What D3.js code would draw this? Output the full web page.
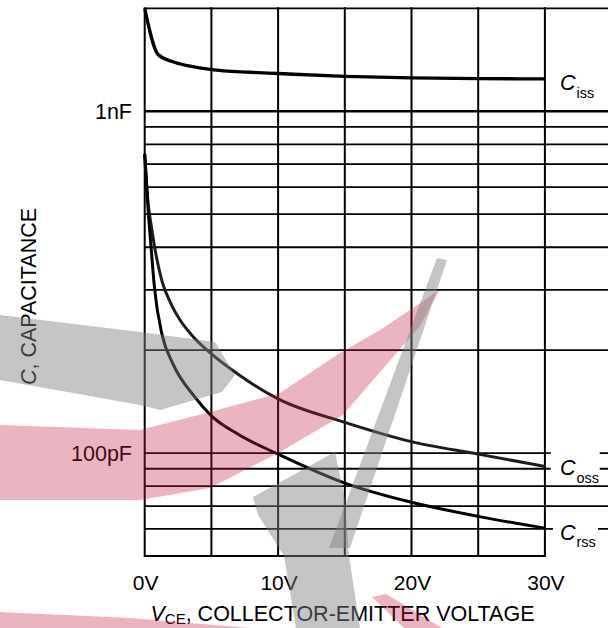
<!DOCTYPE html>
<html>
<head>
<meta charset="utf-8">
<script src="https://cdn.jsdelivr.net/npm/d3@7"></script>
<style>
  body { margin: 0; background: #fff; }
  svg { display: block; }
  text { font-family: "Liberation Sans", Arial, Helvetica, sans-serif; fill: #000; }
</style>
</head>
<body>
<svg id="chart" width="608" height="628"></svg>
<script>
// Capacitance vs. collector-emitter voltage (pF)
const vCiss = [0, 1, 2, 3.4, 5, 7.9, 10, 15, 20, 25, 30];
const ciss  = [2000, 1465, 1400, 1354, 1323, 1300, 1289, 1265, 1252, 1246, 1243];

const vCoss = [0, 0.25, 0.5, 0.77, 1.3, 2, 2.65, 3.5, 5, 7, 10, 15, 20, 25, 30];
const coss  = [750, 540, 460, 395, 318, 272, 245, 222, 195, 170, 144, 123, 108, 99.3, 91.4];

const vCrss = [0, 0.25, 0.5, 0.75, 1.3, 2.1, 3.75, 5, 7, 10, 15, 20, 25, 30];
const crss  = [750, 520, 390, 300, 222, 183, 146, 128.5, 113.5, 99.3, 81.7, 71.8, 65.3, 60.3];

// axes
const xGridV = [0, 5, 10, 15, 20, 25, 30];
const xTickV = [0, 10, 20, 30];
const xTickLabels = ["0V", "10V", "20V", "30V"];
const yGridPF = [60, 70, 80, 90, 100, 200, 300, 400, 500, 600, 700, 800, 900, 1000, 2000];
const yTickPF = [1000, 100];
const yTickLabels = ["1nF", "100pF"];

// translucent logo shapes laid over the grid (page pixels)
const logoPink = [
  [[0,425],[140,430],[210,412],[280,393],[340,353],[380,330],[425,300],[440,289],[420,326],[380,372],[343,415],[280,452],[210,488],[140,500],[0,500]],
  [[0,612],[130,618],[250,628],[0,628]],
  [[372,597],[386,594],[442,628],[404,628]]
];
const logoGray = [
  [[0,315],[140,332],[215,342],[235,375],[222,392],[160,410],[140,405],[0,380]],
  [[253,497],[335,452],[345,500],[349,556],[360,628],[296,628],[284,556],[258,515]],
  [[437,258],[447,260],[350,548],[329,548]]
];

const svg = d3.select("#chart");

const x = d3.scaleLinear().domain([0, 34.73]).range([144.7, 608]);
const y = d3.scaleLog().domain([50, 2000]).range([556, 8.3]);

const grid = svg.append("g").attr("stroke", "#000").attr("fill", "none");

// horizontal grid lines run past 30 V to the page edge
grid.selectAll("line.h").data(yGridPF).join("line")
  .attr("class", "h")
  .attr("x1", x(0)).attr("x2", x.range()[1])
  .attr("y1", d => y(d)).attr("y2", d => y(d))
  .attr("stroke-width", d => d === 1000 ? 2.4 : 1.8);

// bottom border stops at 30 V
grid.append("line")
  .attr("x1", x(0)).attr("x2", x(30))
  .attr("y1", y(50)).attr("y2", y(50))
  .attr("stroke-width", 2);

// vertical grid lines
grid.selectAll("line.v").data(xGridV).join("line")
  .attr("class", "v")
  .attr("x1", d => x(d)).attr("x2", d => x(d))
  .attr("y1", y(2000) - 1).attr("y2", y(50) + 1)
  .attr("stroke-width", 2);

// curves
const line = d3.line().curve(d3.curveMonotoneX)
  .x(d => x(d[0])).y(d => y(d[1]));

const curves = [
  { v: vCiss, c: ciss, w: 3.3, col: "#000" },
  { v: vCoss, c: coss, w: 3, col: "#1c1c1c" },
  { v: vCrss, c: crss, w: 3, col: "#000" }
];
svg.append("g").selectAll("path").data(curves).join("path")
  .attr("d", d => line(d.v.map((v, i) => [v, d.c[i]])))
  .attr("fill", "none")
  .attr("stroke", d => d.col)
  .attr("stroke-width", d => d.w)
  .attr("stroke-linejoin", "round");

// y tick labels
svg.append("g").selectAll("text").data(yTickPF).join("text")
  .attr("x", 132).attr("y", d => y(d) + 7.6)
  .attr("text-anchor", "end")
  .attr("font-size", 21.5)
  .text((d, i) => yTickLabels[i]);

// x tick labels
svg.append("g").selectAll("text").data(xTickV).join("text")
  .attr("x", d => x(d) + 1).attr("y", 589.5)
  .attr("text-anchor", "middle")
  .attr("font-size", 21)
  .text((d, i) => xTickLabels[i]);

// x axis title
const xt = svg.append("text")
  .attr("x", 342.5).attr("y", 620.6)
  .attr("text-anchor", "middle")
  .attr("font-size", 21.5);
xt.append("tspan").attr("font-style", "italic").text("V");
xt.append("tspan").attr("font-size", 15).attr("dy", 3).text("CE");
xt.append("tspan").attr("dy", -3).text(", COLLECTOR-EMITTER VOLTAGE");

// y axis title
const yt = svg.append("text")
  .attr("transform", "translate(36,296.5) rotate(-90)")
  .attr("text-anchor", "middle")
  .attr("font-size", 21.5);
yt.append("tspan").attr("font-style", "italic").text("C");
yt.append("tspan").text(", CAPACITANCE");

// series labels on white boxes beyond 30 V
const seriesLabels = [
  { sub: "iss", box: [552, 64, 50, 40], base: 90 },
  { sub: "oss", box: [550.7, 449, 49, 35], base: 475 },
  { sub: "rss", box: [553, 515, 45, 36], base: 539.5 }
];
const lg = svg.append("g");
seriesLabels.forEach(s => {
  lg.append("rect")
    .attr("x", s.box[0]).attr("y", s.box[1])
    .attr("width", s.box[2]).attr("height", s.box[3])
    .attr("fill", "#fff");
  const t = lg.append("text")
    .attr("x", 560).attr("y", s.base)
    .attr("font-size", 21.5);
  t.append("tspan").attr("font-style", "italic").text("C");
  t.append("tspan").attr("font-size", 14.5).attr("dx", 1).attr("dy", 7.5).text(s.sub);
});

// logo overlay
const logo = svg.append("g").attr("stroke", "none");
logo.selectAll("polygon.p").data(logoPink).join("polygon")
  .attr("class", "p")
  .attr("points", d => d.map(p => p.join(",")).join(" "))
  .attr("fill", "rgb(190,30,65)").attr("fill-opacity", 0.33);
logo.selectAll("polygon.g").data(logoGray).join("polygon")
  .attr("class", "g")
  .attr("points", d => d.map(p => p.join(",")).join(" "))
  .attr("fill", "rgb(128,128,128)").attr("fill-opacity", 0.46);
</script>
</body>
</html>
